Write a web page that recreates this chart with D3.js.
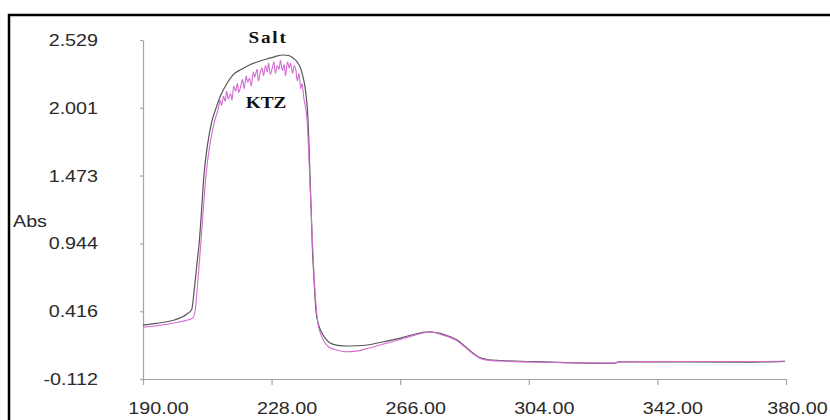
<!DOCTYPE html>
<meta charset="utf-8">
<style>
body{margin:0;background:#fff;}
text{font-family:"Liberation Sans",Arial,sans-serif;fill:#2a2a2a;}
text.series{font-family:"Liberation Serif","Times New Roman",serif;font-weight:bold;fill:#111;}
</style>
<body>
<div id="chart"></div>
<script src="https://d3js.org/d3.v7.min.js"></script>
<script>
// values
var xTicks = [190, 228, 266, 304, 342, 380];
var yTicks = [-0.112, 0.416, 0.944, 1.473, 2.001, 2.529];

var saltWl = [190, 194, 197, 199.5, 201.7, 203, 204.4, 205.2, 206, 206.6, 207.3, 208, 209, 210.2, 211.6, 213, 214.8,
	216.6, 219, 221.6, 224, 226.6, 229, 231.4, 233, 234.3, 235.5, 236.4, 237.3, 237.9, 238.3, 238.6, 239, 239.35,
	239.7, 240, 240.5, 241.1, 241.8, 242.8, 244, 245.3, 247.5, 250.3, 253, 256.2, 261, 266, 270, 272.5, 274.5,
	276, 277.8, 280, 282.8, 285, 287.5, 289.5, 291.7, 295.5, 304.4, 315, 329.5, 330.5, 350, 370, 378, 379.7];
var saltAbs = [0.309, 0.322, 0.334, 0.350, 0.373, 0.395, 0.43, 0.6, 0.8, 0.944, 1.2, 1.473, 1.70, 1.88, 2.0, 2.10, 2.19,
	2.258, 2.30, 2.336, 2.36, 2.381, 2.40, 2.412, 2.408, 2.39, 2.36, 2.32, 2.24, 2.16, 2.07, 1.98, 1.75, 1.47,
	1.2, 0.944, 0.68, 0.42, 0.32, 0.25, 0.20, 0.168, 0.150, 0.145, 0.147, 0.153, 0.178, 0.207, 0.235, 0.250, 0.256,
	0.252, 0.244, 0.225, 0.192, 0.145, 0.09, 0.055, 0.040, 0.032, 0.024, 0.016, 0.010, 0.022, 0.022, 0.020, 0.024, 0.026];

var ktzWl = [190, 194, 198, 201.7, 203.5, 204.7, 205.4, 206.2, 207.1, 207.8, 208.6, 209.8, 211, 212.3,
	212.8, 213.2, 213.8, 214.3, 214.7, 215.2, 215.9, 216.3, 216.8, 217.4, 217.9, 218.3, 218.8, 219.4, 219.9,
	220.5, 220.9, 221.5, 222, 222.6, 223, 223.7, 224.1, 224.6, 225.2, 225.6, 226.2, 226.7, 227.1, 227.6,
	228.2, 228.7, 229.1, 229.7, 230.2, 230.6, 231.2, 231.7, 232.1, 232.7, 233.2, 233.6, 234.2, 234.7,
	235.2, 235.6, 236.1, 236.6, 237, 237.5,
	237.9, 238.4, 238.8, 239.2, 239.6, 240, 240.5, 241.1, 241.7, 242.5, 243.5, 245, 247.5, 250.2, 253, 256.2,
	261, 266, 270, 273, 274.5, 276, 278, 282.8, 285, 287.5, 289.5, 291.7, 295.5, 304.4, 315, 329.5, 330.5,
	350, 370, 379.7];
var ktzAbs = [0.291, 0.303, 0.318, 0.338, 0.350, 0.362, 0.42, 0.65, 0.944, 1.2, 1.473, 1.72, 1.88, 2.0,
	2.06, 2.02, 2.09, 2.05, 2.13, 2.07, 2.11, 2.06, 2.17, 2.13, 2.19, 2.12, 2.16, 2.22, 2.15,
	2.25, 2.20, 2.23, 2.17, 2.28, 2.24, 2.30, 2.21, 2.27, 2.31, 2.25, 2.33, 2.28, 2.35, 2.26,
	2.31, 2.36, 2.27, 2.33, 2.30, 2.37, 2.29, 2.34, 2.25, 2.36, 2.31, 2.35, 2.27, 2.33,
	2.29, 2.21, 2.27, 2.15, 2.19, 2.08,
	2.02, 1.93, 1.75, 1.5, 1.25, 1.0, 0.72, 0.47, 0.32, 0.24, 0.18, 0.135, 0.112, 0.100, 0.105, 0.125,
	0.16, 0.196, 0.228, 0.248, 0.252, 0.250, 0.235, 0.185, 0.14, 0.085, 0.050, 0.035, 0.028, 0.020, 0.015, 0.012, 0.022,
	0.024, 0.024, 0.026];

var W = 830, H = 420;
var stretch = 1.16;

var svg = d3.select("#chart").append("svg").attr("width", W).attr("height", H);

// black frame, only left and top fall inside the picture
svg.append("rect").attr("x", 9).attr("y", 15).attr("width", 900).attr("height", 500)
	.attr("fill", "none").attr("stroke", "#000").attr("stroke-width", 2.5);

var x = d3.scaleLinear().domain([190, 380]).range([143, 786]);
var y = d3.scaleLinear().domain([-0.112, 2.529]).range([379, 40]);

var gx = svg.append("g").attr("transform", "translate(0," + y(-0.112) + ")")
	.call(d3.axisBottom(x).tickValues(xTicks).tickSizeInner(6).tickSizeOuter(0)
		.tickFormat(function(d){ return d.toFixed(2); }));
var gy = svg.append("g").attr("transform", "translate(" + x(190) + ",0)")
	.call(d3.axisLeft(y).tickValues(yTicks).tickSizeInner(3).tickSizeOuter(0)
		.tickFormat(function(d){ return d.toFixed(3); }));

[gx, gy].forEach(function(g){
	g.select(".domain").attr("stroke", "#a6a6a6").attr("stroke-width", 1.2);
	g.selectAll(".tick line").attr("stroke", "#a6a6a6").attr("stroke-width", 1.2);
	g.selectAll("text").attr("font-size", 17).attr("fill", "#2a2a2a")
		.attr("font-family", "'Liberation Sans', Arial, sans-serif");
});
// labels sit a little right of their ticks; the last one is pulled in to stay on the page
gx.selectAll("text").attr("x", 0).attr("y", 23)
	.attr("transform", function(d){
		return "translate(" + (d == 380 ? 11 : 15) + ",0) scale(" + stretch + ",1)";
	});
gy.selectAll("text").attr("x", 0)
	.attr("transform", "translate(-45,0) scale(" + stretch + ",1)");

svg.append("text").attr("font-size", 17).attr("x", 0).attr("y", 0)
	.attr("transform", "translate(13,227) scale(" + stretch + ",1)").text("Abs");

function pairs(wl, ab){ return wl.map(function(d, i){ return [d, ab[i]]; }); }

var line = d3.line().x(function(d){ return x(d[0]); }).y(function(d){ return y(d[1]); })
	.curve(d3.curveMonotoneX);

svg.append("path").datum(pairs(saltWl, saltAbs)).attr("d", line)
	.attr("fill", "none").attr("stroke", "#565656").attr("stroke-width", 1.2);
svg.append("path").datum(pairs(ktzWl, ktzAbs)).attr("d", line)
	.attr("fill", "none").attr("stroke", "#d46ad4").attr("stroke-width", 1.1);

svg.append("text").attr("class", "series").attr("font-size", 16).attr("text-anchor", "middle")
	.attr("letter-spacing", 1.5)
	.attr("transform", "translate(268,43) scale(1.2,1)").text("Salt");
svg.append("text").attr("class", "series").attr("font-size", 16).attr("text-anchor", "middle")
	.attr("transform", "translate(266,108) scale(1.2,1)").text("KTZ");
</script>
</body>
